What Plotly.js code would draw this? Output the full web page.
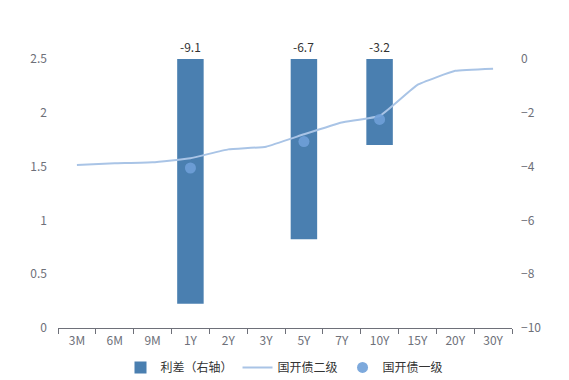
<!DOCTYPE html>
<html><head><meta charset="utf-8">
<script src="https://cdn.plot.ly/plotly-3.0.1.min.js"></script>
<style>body{margin:0;background:#fff}#c{width:569px;height:380px}</style>
</head><body><div id="c"></div>
<script>
var categories = ['3M','6M','9M','1Y','2Y','3Y','5Y','7Y','10Y','15Y','20Y','30Y'];
var lineNames = ['利差（右轴）','国开债二级','国开债一级'];
var level2 = [1.515, 1.53, 1.54, 1.578, 1.66, 1.685, 1.80, 1.91, 1.97, 2.26, 2.39, 2.41];
var spreadCats = ['1Y','5Y','10Y'];
var spread = [-9.1, -6.7, -3.2];
var level1 = [1.487, 1.733, 1.938];

var font = '"Noto Sans CJK SC", "Noto Sans", sans-serif';
var axisColor = '#6e7079';

var traces = [
  {type:'bar', x:spreadCats, y:spread, name:lineNames[0], yaxis:'y', width:0.7,
   marker:{color:'#4a7fb0'}, hoverinfo:'skip'},
  {type:'scatter', mode:'lines', x:categories, y:level2, name:lineNames[1], yaxis:'y2',
   line:{color:'#a9c4e6', width:2, shape:'spline', smoothing:0.3}},
  {type:'scatter', mode:'markers', x:spreadCats, y:level1, name:lineNames[2], yaxis:'y2',
   marker:{color:'#6fa0d8', size:11, opacity:0.9}}
];

var annotations = spreadCats.map(function(c,i){
  return {x:c, y:0, xref:'x', yref:'y', yanchor:'bottom', yshift:2, showarrow:false,
    text:String(spread[i]), font:{family:font, size:12, color:'#333'}};
});

var layout = {
  width:569, height:380,
  margin:{l:58, r:57, t:59, b:52, autoexpand:false},
  paper_bgcolor:'#fff', plot_bgcolor:'#fff',
  font:{family:font, size:12, color:axisColor},
  showlegend:true,
  legend:{orientation:'h', x:0.5, xanchor:'center', xref:'container', yref:'container', y:0.033, yanchor:'middle',
    font:{family:font, size:12, color:'#333'}, itemwidth:30, traceorder:'normal'},
  xaxis:{type:'category', categoryarray:categories, categoryorder:'array',
    range:[-0.5, 11.5], showgrid:false, showline:true, linecolor:axisColor, linewidth:1,
    ticks:'outside', tickson:'boundaries', ticklen:5, tickcolor:axisColor, ticklabelstandoff:2,
    tickfont:{family:font, size:12, color:axisColor}, zeroline:false, fixedrange:true},
  yaxis:{side:'right', range:[-10,0], tickvals:[-10,-8,-6,-4,-2,0],
    showgrid:false, zeroline:false, showline:false, ticks:'', ticklabelstandoff:8,
    tickfont:{family:font, size:12, color:axisColor}},
  yaxis2:{overlaying:'y', side:'left', range:[0,2.5], tickvals:[0,0.5,1,1.5,2,2.5], ticktext:['0','0.5','1','1.5','2','2.5'],
    showgrid:false, zeroline:false, showline:false, ticks:'', ticklabelstandoff:10,
    tickfont:{family:font, size:12, color:axisColor}},
  annotations:annotations,
  bargap:0.3
};
Plotly.newPlot('c', traces, layout, {displayModeBar:false, staticPlot:true});
</script></body></html>
